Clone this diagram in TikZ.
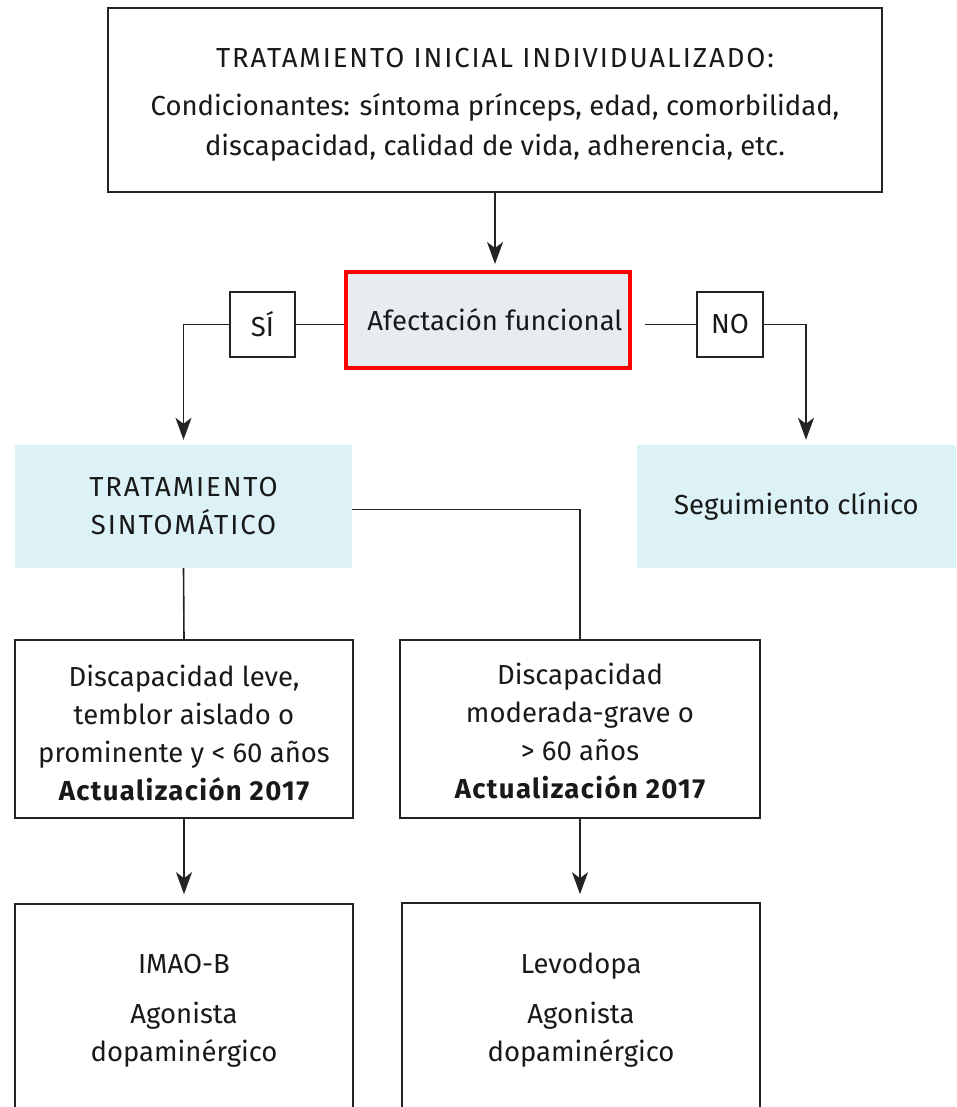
\documentclass[tikz,border=0pt]{standalone}
\usepackage{fontspec}
\setmainfont{Fira Sans}
\usetikzlibrary{arrows.meta}
\newcommand\wideCaps[1]{{\addfontfeature{LetterSpace=7}#1}}
\newcommand\wideBold[1]{{\bfseries\addfontfeature{LetterSpace=5}#1}}
\definecolor{lineclr}{RGB}{35,35,35}
\definecolor{txtclr}{RGB}{25,25,25}
\definecolor{bluefill}{RGB}{220,242,246}
\definecolor{greyfill}{RGB}{230,236,240}
\definecolor{redclr}{RGB}{255,0,0}
\tikzset{
  txt/.style={font=\fontsize{27.5}{38}\selectfont, text=txtclr},
  box/.style={draw=lineclr, line width=1.6pt, align=center, inner sep=0pt, txt},
  label/.style={align=center, inner sep=0pt, txt},
  bluebox/.style={fill=bluefill, align=center, inner sep=0pt, txt},
  conn/.style={draw=lineclr, line width=1.6pt},
  arr/.style={conn, -{Stealth[length=22pt,width=16pt,inset=6pt]}},
}
\begin{document}
\begin{tikzpicture}[x=1pt,y=-1pt]
\useasboundingbox (0,0) rectangle (956,1107);
\clip (0,0) rectangle (956,1107);
\node[box, minimum width=774pt, minimum height=184pt] (top) at (495,100) {};
\node[label] (toptext) at (495,105)
  {\wideCaps{TRATAMIENTO INICIAL INDIVIDUALIZADO:}\\[10pt]Condicionantes: síntoma prínceps, edad, comorbilidad,\\[2pt]discapacidad, calidad de vida, adherencia, etc.};
\node[fill=greyfill, draw=redclr, line width=4pt, minimum width=284pt, minimum height=96pt, inner sep=0pt, txt] (af) at (488,320) {\hspace*{14pt}Afectación funcional};
\node[box, minimum width=65pt, minimum height=65pt] (si) at (262.5,324.5) {SÍ};
\node[box, minimum width=66pt, minimum height=65pt] (no) at (730,324.5) {NO};
\node[bluebox, minimum width=337pt, minimum height=123pt] (ts) at (183.5,506.5) {\wideCaps{TRATAMIENTO}\\\wideCaps{SINTOMÁTICO}};
\node[bluebox, minimum width=319pt, minimum height=123pt] (sc) at (796.5,506.5) {Seguimiento clínico};
\node[box, minimum width=338pt, minimum height=178pt] (lm) at (184,729) {};
\node[label] (lmtext) at (184,733)
  {Discapacidad leve,\\temblor aislado o\\prominente y < 60 años\\\wideBold{Actualización 2017}};
\node[box, minimum width=360pt, minimum height=178pt] (rm) at (580,729) {};
\node[label] (rmtext) at (580,731)
  {Discapacidad\\moderada-grave o\\> 60 años\\\wideBold{Actualización 2017}};
\node[box, minimum width=338pt, minimum height=214pt] (lb) at (184,1011)
  {IMAO-B\\[12pt]Agonista\\dopaminérgico};
\node[box, minimum width=358pt, minimum height=214pt] (rb) at (581,1010)
  {Levodopa\\[12pt]Agonista\\dopaminérgico};
\draw[arr, shorten >=6pt] (top.south -| 495,0) -- (af.north -| 495,0);
\draw[conn] (si.east -| af.west) -- (si.east);
\draw[arr, shorten >=5pt] (si.west) -| (ts.north);
\draw[conn] ([xshift=13pt]no.west -| af.east) -- (no.west);
\draw[arr, shorten >=5pt] (no.east) -| ([xshift=9.5pt]sc.north);
\draw[conn] ([yshift=-3pt]ts.east) -| (rm.north);
\draw[conn] (ts.south) -- (lm.north);
\draw[arr, shorten >=9pt] (lm.south) -- (lb.north);
\draw[arr, shorten >=8pt] (rm.south) -- (rb.north -| rm.south);
\end{tikzpicture}
\end{document}
